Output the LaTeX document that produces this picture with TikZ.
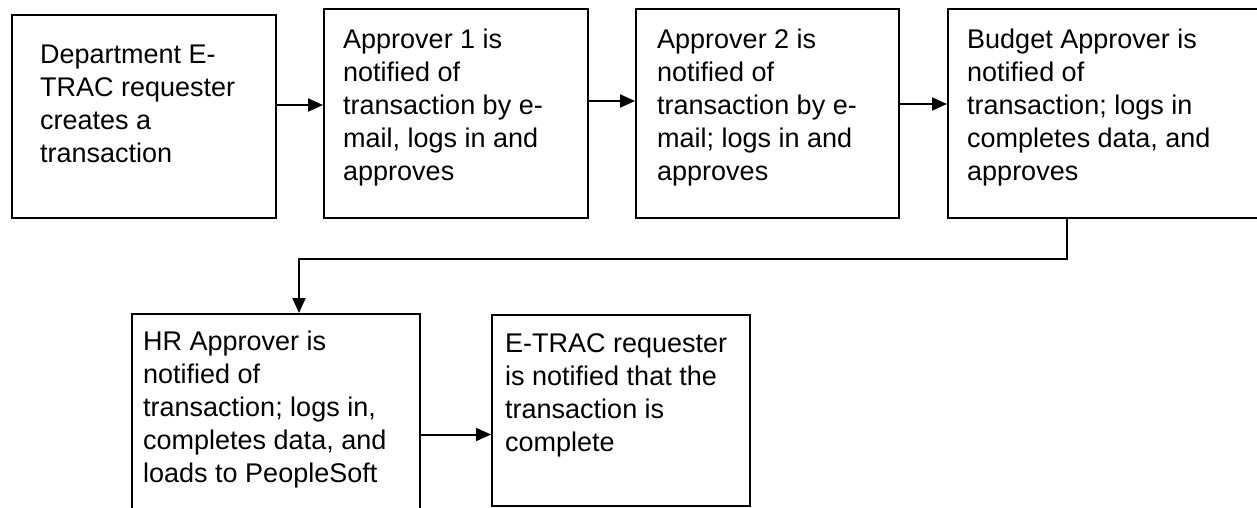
\documentclass[tikz,border=0pt]{standalone}
\usepackage{fontspec}
\setmainfont{Liberation Sans}
\usetikzlibrary{arrows.meta}
\begin{document}
\begin{tikzpicture}[x=1pt,y=-1pt,
  box/.style={draw, line width=2pt, inner sep=0pt, anchor=north west},
  txt/.style={inner sep=0pt, anchor=north west, align=left, font=\fontsize{27}{33}\selectfont},
  arr/.style={line width=2pt, -{Triangle[length=15pt,width=13pt]}}]
\useasboundingbox (0,0) rectangle (1257,508);
\clip (0,0) rectangle (1257,508);
\fill[white] (0,0) rectangle (1257,508);
% boxes
\node[box, minimum width=264pt, minimum height=203pt] (b1) at (11,14) {};
\node[box, minimum width=264pt, minimum height=209pt] (b2) at (323,8) {};
\node[box, minimum width=263pt, minimum height=209pt] (b3) at (635,8) {};
\node[box, minimum width=330pt, minimum height=209pt] (b4) at (947,8) {};
\node[box, minimum width=288pt, minimum height=220pt] (b5) at (131,313) {};
\node[box, minimum width=258pt, minimum height=191pt] (b6) at (491,314) {};
% texts
\node[txt] (t1) at (40,44.5) {Department E-\\TRAC requester\\creates a\\transaction};
\node[txt] (t2) at (343,28.5) {Approver 1 is\\notified of\\transaction by e-\\mail, logs in and\\approves};
\node[txt] (t3) at (657,28.5) {Approver 2 is\\notified of\\transaction by e-\\mail; logs in and\\approves};
\node[txt] (t4) at (967,28.5) {Budget Approver is\\notified of\\transaction; logs in\\completes data, and\\approves};
\node[txt] (t5) at (143,330.5) {HR Approver is\\notified of\\transaction; logs in,\\completes data, and\\loads to PeopleSoft};
\node[txt] (t6) at (505,333.5) {E-TRAC requester\\is notified that the\\transaction is\\complete};
% connectors
\draw[arr] ([yshift=11.5pt]b1.east) -- ([yshift=11.5pt]b1.east -| b2.west);
\draw[arr] ([yshift=12.5pt]b2.east) -- ([yshift=12.5pt]b2.east -| b3.west);
\draw[arr] ([yshift=9.5pt]b3.east) -- ([yshift=9.5pt]b3.east -| b4.west);
\draw[arr] ([xshift=120pt]b4.south west) -- ++(0,40) -| ([xshift=168pt]b5.north west);
\draw[arr] ([yshift=-10.5pt]b5.east) -- ([yshift=-10.5pt]b5.east -| b6.west);
\end{tikzpicture}
\end{document}
